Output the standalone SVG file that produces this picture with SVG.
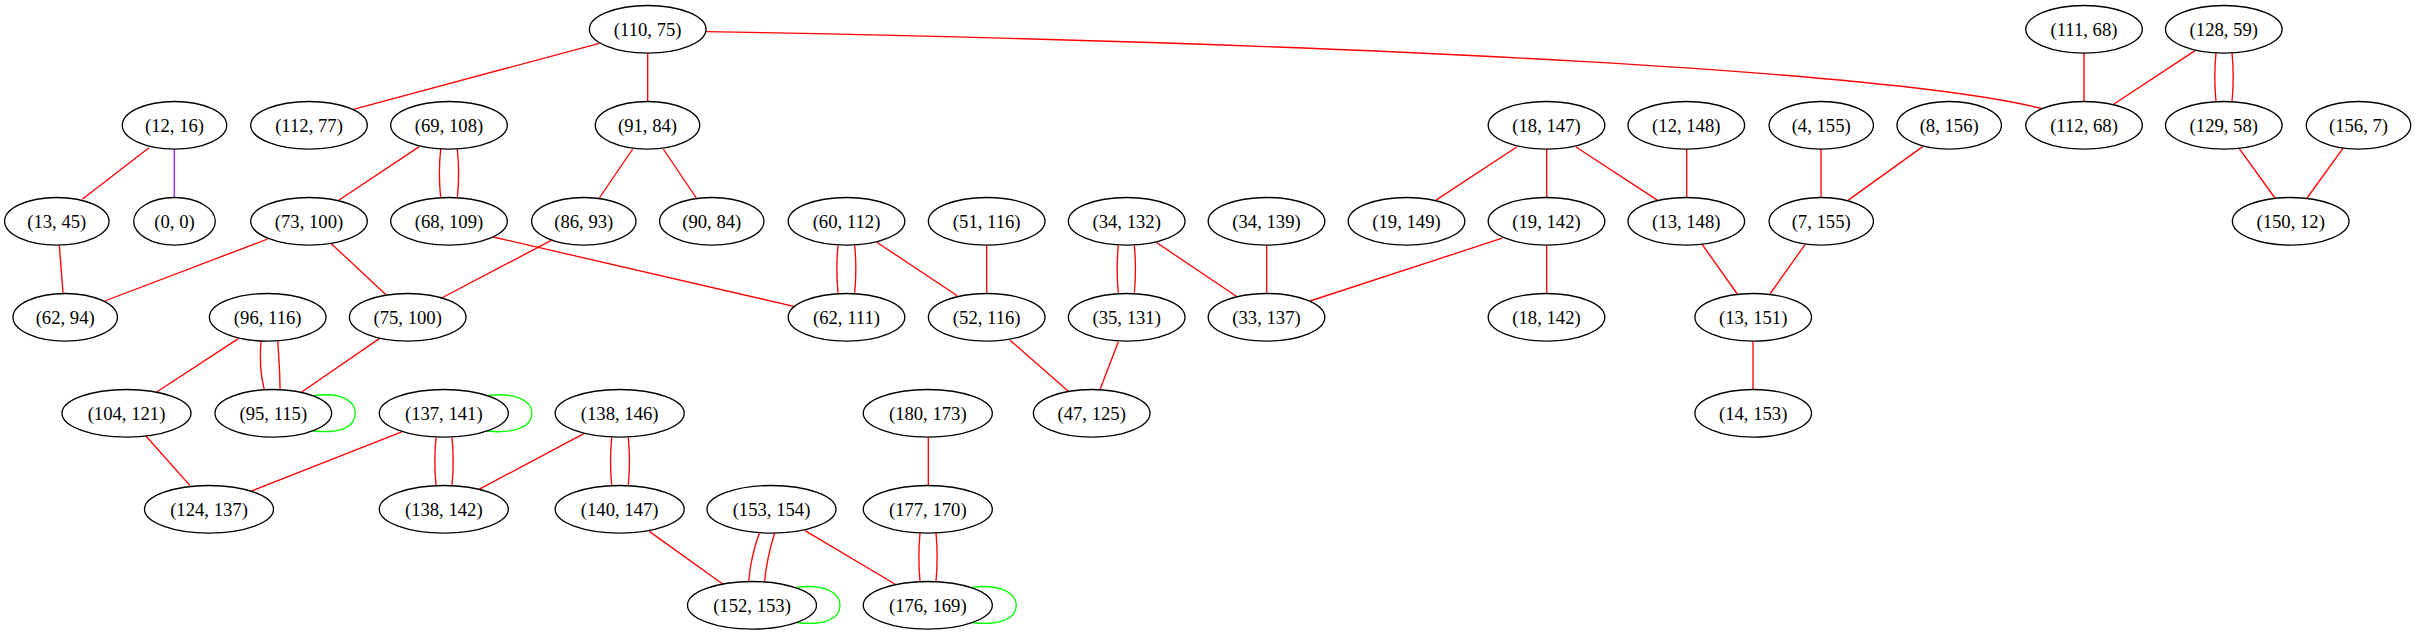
<svg xmlns="http://www.w3.org/2000/svg" width="2416" height="635" viewBox="0 0 2416 635">
<style>
.n ellipse{fill:none;stroke:#000;stroke-width:1.33}
.n text{font-family:"Liberation Serif","Times New Roman",serif;font-size:18.67px;text-anchor:middle;fill:#000}
#edges path{fill:none;stroke-width:1.33}
.r{stroke:#ff0000}
.g{stroke:#00ff00}
.p{stroke:#a020f0}
</style>
<rect width="2416" height="635" fill="#fff"/>
<g id="edges">
<path class="r" d="M599.3,43.3L353.3,109.4"/>
<path class="r" d="M647.7,52.7L647.7,101.3"/>
<path class="r" d="M706,31.6C1400,44 1900,73 2041.7,108.5"/>
<path class="r" d="M2084,52.7L2084,101.3"/>
<path class="r" d="M2195,50.6L2113.3,104.5"/>
<path class="r" d="M2216,52.7C2214.5,68 2214.5,86 2216,101.3"/>
<path class="r" d="M2232,52.7C2233.5,68 2233.5,86 2232,101.3"/>
<path class="r" d="M2239.3,148.6L2275.3,198.5"/>
<path class="r" d="M2343.3,147.8L2306.7,198.5"/>
<path class="r" d="M149,147.8L82.3,199.3"/>
<path class="p" d="M174.3,149L174.3,197.2"/>
<path class="r" d="M59.3,245.4L63,292.8"/>
<path class="r" d="M419.3,146.6L338.3,200.5"/>
<path class="r" d="M440.7,149C439,165 439,182 440.7,197.7"/>
<path class="r" d="M457.3,149C459,165 459,182 457.3,197.7"/>
<path class="r" d="M267.7,239L104.7,301"/>
<path class="r" d="M331,243.4L385.7,294.5"/>
<path class="r" d="M632.7,149L599,198.5"/>
<path class="r" d="M663.3,149L696.7,198.5"/>
<path class="r" d="M551.7,240.2L440.7,298.5"/>
<path class="r" d="M493.3,237L795,306.6"/>
<path class="r" d="M838,245.4C836.5,261 836.5,277 838,292.8"/>
<path class="r" d="M854.7,245.4C856.2,261 856.2,277 854.7,292.8"/>
<path class="r" d="M876.7,242.2L957.3,295.7"/>
<path class="r" d="M986.7,245.4L986.7,292.8"/>
<path class="r" d="M1118.3,245.4C1116.8,261 1116.8,277 1118.3,292.8"/>
<path class="r" d="M1134.3,245.4C1135.8,261 1135.8,277 1134.3,292.8"/>
<path class="r" d="M1156,242.2L1236.7,296.5"/>
<path class="r" d="M1266.7,245.4L1266.7,292.8"/>
<path class="r" d="M1502.3,238.2L1310,301"/>
<path class="r" d="M1516.7,147L1436,200.1"/>
<path class="r" d="M1546.7,149L1546.7,197.7"/>
<path class="r" d="M1576,147L1657.3,200.1"/>
<path class="r" d="M1546.7,245.4L1546.7,292.8"/>
<path class="r" d="M1686.7,149L1686.7,197.7"/>
<path class="r" d="M1821,149L1821,197.7"/>
<path class="r" d="M1922.7,146.6L1848.3,200.1"/>
<path class="r" d="M1702.3,244.6L1737.3,294"/>
<path class="r" d="M1805,244.6L1770,294"/>
<path class="r" d="M1753,341.4L1753,389.6"/>
<path class="r" d="M1010,340.2L1068.3,391.3"/>
<path class="r" d="M1118.3,341.8L1100,389.6"/>
<path class="r" d="M238.3,338.6L156.7,392"/>
<path class="r" d="M261,341C259.5,358 260.5,375 264.3,389.6"/>
<path class="r" d="M277.7,341C279,358 280,375 280,389.6"/>
<path class="r" d="M379.3,338.6L301.7,392"/>
<path class="g" d="M313.3,395.7C340,392 355.3,400 355.3,413.3C355.3,427 340,434 313.3,431"/>
<path class="r" d="M145.7,435.8L190,485.6"/>
<path class="r" d="M401.7,431.8L250.7,491.3"/>
<path class="g" d="M486.7,395.7C514,392 532,400 532,413.3C532,427 514,434 486.7,431"/>
<path class="r" d="M436,437.4C434.5,453 434.5,470 436,485.2"/>
<path class="r" d="M452,437.4C453.5,453 453.5,470 452,485.2"/>
<path class="r" d="M584.3,433.4L479,489.3"/>
<path class="r" d="M611.7,437.4C610.2,453 610.2,470 611.7,485.2"/>
<path class="r" d="M628.3,437.4C629.8,453 629.8,470 628.3,485.2"/>
<path class="r" d="M649.3,531.4L723.3,584.5"/>
<path class="r" d="M759.3,533C754,548 750,565 748.7,581.2"/>
<path class="r" d="M774.7,533C770,548 766,565 764.7,581.2"/>
<path class="r" d="M805,530.6L895.7,584.5"/>
<path class="g" d="M796.7,587.3C824,584 840,592 840,605.3C840,619 824,626 796.7,622.5"/>
<path class="r" d="M928.3,437.4L928.3,485.2"/>
<path class="r" d="M920,533C918.5,549 918.5,565 920,581.2"/>
<path class="r" d="M936,533C937.5,549 937.5,565 936,581.2"/>
<path class="g" d="M971.7,587.3C999,584 1016.3,592 1016.3,605.3C1016.3,619 999,626 971.7,622.5"/>
</g>
<g id="n110_75" class="n"><ellipse cx="647.7" cy="29.3" rx="58.3" ry="23.8"/><text x="647.7" y="35.8">(110, 75)</text></g>
<g id="n111_68" class="n"><ellipse cx="2084" cy="29.3" rx="58.3" ry="23.8"/><text x="2084" y="35.8">(111, 68)</text></g>
<g id="n128_59" class="n"><ellipse cx="2223.8" cy="29.3" rx="58.3" ry="23.8"/><text x="2223.8" y="35.8">(128, 59)</text></g>
<g id="n12_16" class="n"><ellipse cx="174.5" cy="125.3" rx="52.2" ry="23.8"/><text x="174.5" y="131.8">(12, 16)</text></g>
<g id="n112_77" class="n"><ellipse cx="309" cy="125.3" rx="58.3" ry="23.8"/><text x="309" y="131.8">(112, 77)</text></g>
<g id="n69_108" class="n"><ellipse cx="449" cy="125.3" rx="58.3" ry="23.8"/><text x="449" y="131.8">(69, 108)</text></g>
<g id="n91_84" class="n"><ellipse cx="647.5" cy="125.3" rx="52.2" ry="23.8"/><text x="647.5" y="131.8">(91, 84)</text></g>
<g id="n18_147" class="n"><ellipse cx="1546.5" cy="125.3" rx="58.3" ry="23.8"/><text x="1546.5" y="131.8">(18, 147)</text></g>
<g id="n12_148" class="n"><ellipse cx="1686.3" cy="125.3" rx="58.3" ry="23.8"/><text x="1686.3" y="131.8">(12, 148)</text></g>
<g id="n4_155" class="n"><ellipse cx="1821.2" cy="125.3" rx="52.2" ry="23.8"/><text x="1821.2" y="131.8">(4, 155)</text></g>
<g id="n8_156" class="n"><ellipse cx="1949.2" cy="125.3" rx="52.2" ry="23.8"/><text x="1949.2" y="131.8">(8, 156)</text></g>
<g id="n112_68" class="n"><ellipse cx="2084" cy="125.3" rx="58.3" ry="23.8"/><text x="2084" y="131.8">(112, 68)</text></g>
<g id="n129_58" class="n"><ellipse cx="2223.8" cy="125.3" rx="58.3" ry="23.8"/><text x="2223.8" y="131.8">(129, 58)</text></g>
<g id="n156_7" class="n"><ellipse cx="2358.5" cy="125.3" rx="52.2" ry="23.8"/><text x="2358.5" y="131.8">(156, 7)</text></g>
<g id="n13_45" class="n"><ellipse cx="56.8" cy="221.3" rx="52.2" ry="23.8"/><text x="56.8" y="227.8">(13, 45)</text></g>
<g id="n0_0" class="n"><ellipse cx="174.5" cy="221.3" rx="40.8" ry="23.8"/><text x="174.5" y="227.8">(0, 0)</text></g>
<g id="n73_100" class="n"><ellipse cx="309" cy="221.3" rx="58.3" ry="23.8"/><text x="309" y="227.8">(73, 100)</text></g>
<g id="n68_109" class="n"><ellipse cx="449" cy="221.3" rx="58.3" ry="23.8"/><text x="449" y="227.8">(68, 109)</text></g>
<g id="n86_93" class="n"><ellipse cx="583.8" cy="221.3" rx="52.2" ry="23.8"/><text x="583.8" y="227.8">(86, 93)</text></g>
<g id="n90_84" class="n"><ellipse cx="711.8" cy="221.3" rx="52.2" ry="23.8"/><text x="711.8" y="227.8">(90, 84)</text></g>
<g id="n60_112" class="n"><ellipse cx="846.5" cy="221.3" rx="58.3" ry="23.8"/><text x="846.5" y="227.8">(60, 112)</text></g>
<g id="n51_116" class="n"><ellipse cx="986.7" cy="221.3" rx="58.3" ry="23.8"/><text x="986.7" y="227.8">(51, 116)</text></g>
<g id="n34_132" class="n"><ellipse cx="1126.7" cy="221.3" rx="58.3" ry="23.8"/><text x="1126.7" y="227.8">(34, 132)</text></g>
<g id="n34_139" class="n"><ellipse cx="1266.5" cy="221.3" rx="58.3" ry="23.8"/><text x="1266.5" y="227.8">(34, 139)</text></g>
<g id="n19_149" class="n"><ellipse cx="1406.5" cy="221.3" rx="58.3" ry="23.8"/><text x="1406.5" y="227.8">(19, 149)</text></g>
<g id="n19_142" class="n"><ellipse cx="1546.5" cy="221.3" rx="58.3" ry="23.8"/><text x="1546.5" y="227.8">(19, 142)</text></g>
<g id="n13_148" class="n"><ellipse cx="1686.3" cy="221.3" rx="58.3" ry="23.8"/><text x="1686.3" y="227.8">(13, 148)</text></g>
<g id="n7_155" class="n"><ellipse cx="1821.2" cy="221.3" rx="52.2" ry="23.8"/><text x="1821.2" y="227.8">(7, 155)</text></g>
<g id="n150_12" class="n"><ellipse cx="2290.7" cy="221.3" rx="58.3" ry="23.8"/><text x="2290.7" y="227.8">(150, 12)</text></g>
<g id="n62_94" class="n"><ellipse cx="65.2" cy="317.3" rx="52.2" ry="23.8"/><text x="65.2" y="323.8">(62, 94)</text></g>
<g id="n96_116" class="n"><ellipse cx="267.7" cy="317.3" rx="58.3" ry="23.8"/><text x="267.7" y="323.8">(96, 116)</text></g>
<g id="n75_100" class="n"><ellipse cx="407.7" cy="317.3" rx="58.3" ry="23.8"/><text x="407.7" y="323.8">(75, 100)</text></g>
<g id="n62_111" class="n"><ellipse cx="846.5" cy="317.3" rx="58.3" ry="23.8"/><text x="846.5" y="323.8">(62, 111)</text></g>
<g id="n52_116" class="n"><ellipse cx="986.7" cy="317.3" rx="58.3" ry="23.8"/><text x="986.7" y="323.8">(52, 116)</text></g>
<g id="n35_131" class="n"><ellipse cx="1126.7" cy="317.3" rx="58.3" ry="23.8"/><text x="1126.7" y="323.8">(35, 131)</text></g>
<g id="n33_137" class="n"><ellipse cx="1266.5" cy="317.3" rx="58.3" ry="23.8"/><text x="1266.5" y="323.8">(33, 137)</text></g>
<g id="n18_142" class="n"><ellipse cx="1546.5" cy="317.3" rx="58.3" ry="23.8"/><text x="1546.5" y="323.8">(18, 142)</text></g>
<g id="n13_151" class="n"><ellipse cx="1753.2" cy="317.3" rx="58.3" ry="23.8"/><text x="1753.2" y="323.8">(13, 151)</text></g>
<g id="n104_121" class="n"><ellipse cx="126.5" cy="413.3" rx="64.5" ry="23.8"/><text x="126.5" y="419.8">(104, 121)</text></g>
<g id="n95_115" class="n"><ellipse cx="273.3" cy="413.3" rx="58.3" ry="23.8"/><text x="273.3" y="419.8">(95, 115)</text></g>
<g id="n137_141" class="n"><ellipse cx="443.8" cy="413.3" rx="64.5" ry="23.8"/><text x="443.8" y="419.8">(137, 141)</text></g>
<g id="n138_146" class="n"><ellipse cx="619.7" cy="413.3" rx="64.5" ry="23.8"/><text x="619.7" y="419.8">(138, 146)</text></g>
<g id="n180_173" class="n"><ellipse cx="927.8" cy="413.3" rx="64.5" ry="23.8"/><text x="927.8" y="419.8">(180, 173)</text></g>
<g id="n47_125" class="n"><ellipse cx="1091.7" cy="413.3" rx="58.3" ry="23.8"/><text x="1091.7" y="419.8">(47, 125)</text></g>
<g id="n14_153" class="n"><ellipse cx="1753.2" cy="413.3" rx="58.3" ry="23.8"/><text x="1753.2" y="419.8">(14, 153)</text></g>
<g id="n124_137" class="n"><ellipse cx="209" cy="509.3" rx="64.5" ry="23.8"/><text x="209" y="515.8">(124, 137)</text></g>
<g id="n138_142" class="n"><ellipse cx="443.8" cy="509.3" rx="64.5" ry="23.8"/><text x="443.8" y="515.8">(138, 142)</text></g>
<g id="n140_147" class="n"><ellipse cx="619.7" cy="509.3" rx="64.5" ry="23.8"/><text x="619.7" y="515.8">(140, 147)</text></g>
<g id="n153_154" class="n"><ellipse cx="771.5" cy="509.3" rx="64.5" ry="23.8"/><text x="771.5" y="515.8">(153, 154)</text></g>
<g id="n177_170" class="n"><ellipse cx="927.8" cy="509.3" rx="64.5" ry="23.8"/><text x="927.8" y="515.8">(177, 170)</text></g>
<g id="n152_153" class="n"><ellipse cx="752" cy="605.3" rx="64.5" ry="23.8"/><text x="752" y="611.8">(152, 153)</text></g>
<g id="n176_169" class="n"><ellipse cx="927.8" cy="605.3" rx="64.5" ry="23.8"/><text x="927.8" y="611.8">(176, 169)</text></g>
</svg>
